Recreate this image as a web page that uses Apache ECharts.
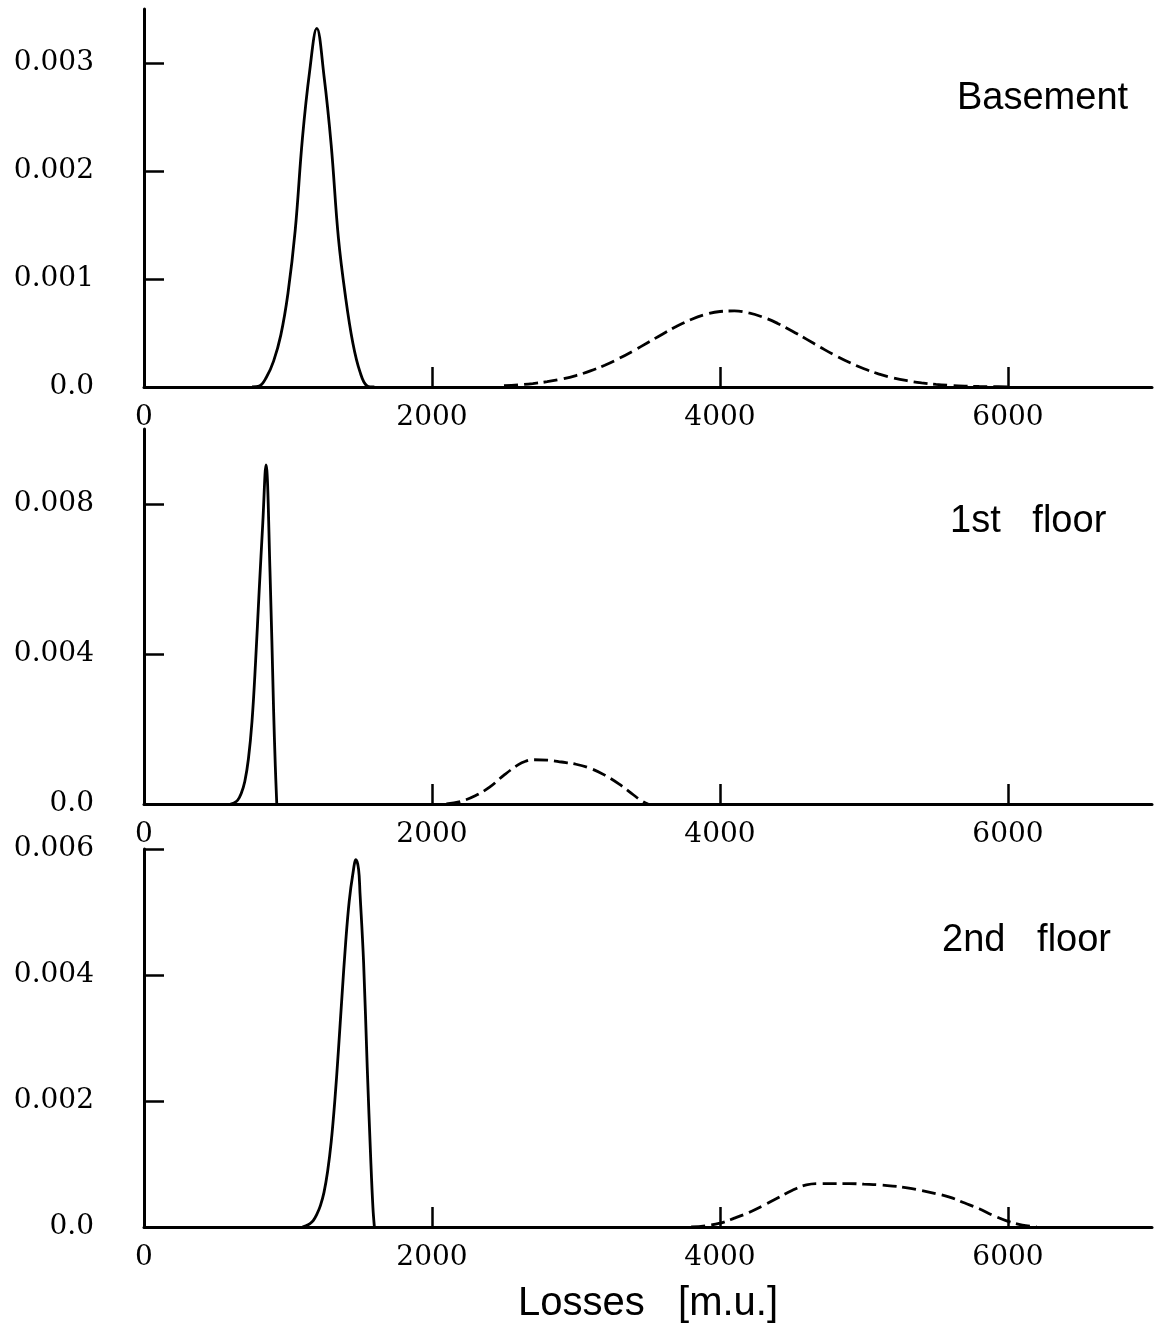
<!DOCTYPE html>
<html>
<head>
<meta charset="utf-8">
<title>Loss distributions by floor</title>
<script src="https://cdn.jsdelivr.net/npm/echarts@6/dist/echarts.min.js"></script>
<style>
  html, body { margin: 0; padding: 0; background: #ffffff; }
  #chart { width: 1156px; height: 1335px; }
</style>
</head>
<body>
<div id="chart"></div>
<script>
// Loss axis ticks and labels (monetary units)
const lossTicks = [2000, 4000, 6000];
const lossLabels = [0, 2000, 4000, 6000];

// Panel names
const panelNames = ['Basement', '1st   floor', '2nd   floor'];

// Density axis ticks per panel
const basementYTicks = [0.001, 0.002, 0.003];
const basementYLabels = [0, 0.001, 0.002, 0.003];
const firstYTicks = [0.004, 0.008];
const firstYLabels = [0, 0.004, 0.008];
const secondYTicks = [0.002, 0.004, 0.006];
const secondYLabels = [0, 0.002, 0.004, 0.006];
const yMax = [0.0035, 0.01, 0.006];

// Basement: solid curve
const basementSolidX = [750, 800, 850, 900, 950, 1000, 1050, 1100, 1150, 1200, 1250, 1300, 1350, 1400, 1450, 1500, 1550, 1600];
const basementSolidY = [0, 0.000008, 0.00009, 0.00024, 0.00048, 0.00087, 0.00145, 0.0023, 0.00292, 0.00332, 0.00288, 0.00224, 0.00138, 0.00083, 0.00041, 0.00014, 0.00001, 0];

// Basement: dashed curve
const basementDashX = [2500, 2600, 2700, 2800, 2900, 3000, 3100, 3200, 3300, 3400, 3500, 3600, 3700, 3800, 3900, 4000, 4100, 4200, 4300, 4400, 4500, 4600, 4700, 4800, 4900, 5000, 5100, 5200, 5300, 5400, 5500, 5600, 5700, 5800, 5900, 6000];
const basementDashY = [0.000012, 0.00002, 0.000032, 0.000049, 0.000073, 0.000106, 0.000149, 0.000202, 0.000265, 0.000336, 0.000412, 0.000489, 0.000562, 0.000625, 0.000672, 0.000699, 0.000704, 0.000686, 0.000646, 0.000589, 0.000519, 0.000443, 0.000366, 0.000292, 0.000226, 0.000169, 0.000122, 0.000085, 0.000058, 0.000038, 0.000024, 0.000015, 0.000009, 0.000005, 0.000003, 0.0000015];

// 1st floor: solid curve
const firstSolidX = [600, 625, 650, 675, 700, 725, 750, 775, 800, 825, 847, 875, 900, 912, 922];
const firstSolidY = [0, 0.00003, 0.0001, 0.00028, 0.0006, 0.0012, 0.0022, 0.0038, 0.0057, 0.0075, 0.00904, 0.0062, 0.0025, 0.001, 0];

// 1st floor: dashed curve
const firstDashX = [2100, 2200, 2300, 2400, 2500, 2600, 2650, 2700, 2800, 2900, 3000, 3100, 3200, 3300, 3400, 3450, 3500];
const firstDashY = [0, 0.00007, 0.00022, 0.00045, 0.00077, 0.00105, 0.00114, 0.00118, 0.00117, 0.00112, 0.00106, 0.00095, 0.00077, 0.00053, 0.00024, 0.0001, 0];

// 2nd floor: solid curve
const secondSolidX = [1100, 1125, 1150, 1175, 1200, 1225, 1250, 1275, 1300, 1325, 1350, 1375, 1400, 1425, 1450, 1472, 1490, 1500, 1525, 1550, 1575, 1590, 1600];
const secondSolidY = [0, 0.00002, 0.00005, 0.0001, 0.0002, 0.00034, 0.00055, 0.00088, 0.00135, 0.002, 0.0028, 0.00367, 0.0045, 0.00517, 0.0056, 0.00583, 0.00568, 0.0053, 0.0042, 0.00255, 0.00105, 0.0003, 0];

// 2nd floor: dashed curve
const secondDashX = [3800, 3900, 4000, 4100, 4200, 4300, 4400, 4500, 4600, 4700, 4800, 4900, 5000, 5100, 5200, 5300, 5400, 5500, 5600, 5700, 5800, 5900, 6000, 6100, 6200];
const secondDashY = [0, 0.00002, 0.00006, 0.00014, 0.00023, 0.00034, 0.00046, 0.00058, 0.00067, 0.00069, 0.00069, 0.00069, 0.00068, 0.00067, 0.00065, 0.00062, 0.00058, 0.00053, 0.00047, 0.00038, 0.00029, 0.00018, 0.00009, 0.00003, 0];

const zip = (xs, ys) => xs.map((x, i) => [x, ys[i]]);

const INK = '#000000';
const tickFont = 'DejaVu Serif';
const textFont = 'Liberation Sans';

// Plot rectangles of the three stacked panels
const grids = [
  { left: 144, top: 9, width: 1008, height: 378 },
  { left: 144, top: 429, width: 1008, height: 375 },
  { left: 144, top: 849, width: 1008, height: 378 }
];

const yTicks = [basementYTicks, firstYTicks, secondYTicks];
const yLabels = [basementYLabels, firstYLabels, secondYLabels];

function makeXAxis(i) {
  const ax = {
    type: 'value', gridIndex: i, min: 0, max: 7000,
    axisLine: { show: true, onZero: false, lineStyle: { color: INK, width: 3 } },
    axisTick: { show: true, inside: true, length: 20, customValues: lossTicks, lineStyle: { color: INK, width: 2.5 } },
    axisLabel: {
      show: true, customValues: lossLabels, margin: 17, color: INK, fontSize: 28, fontFamily: tickFont,
      formatter: v => String(v)
    },
    splitLine: { show: false }
  };
  if (i === 2) {
    ax.name = 'Losses   [m.u.]';
    ax.nameLocation = 'middle';
    ax.nameGap = 57;
    ax.nameTextStyle = { color: INK, fontSize: 40, fontFamily: textFont, verticalAlign: 'top' };
  }
  return ax;
}

function makeYAxis(i) {
  return {
    type: 'value', gridIndex: i, min: 0, max: yMax[i],
    axisLine: { show: true, onZero: false, lineStyle: { color: INK, width: 3 } },
    axisTick: { show: true, inside: true, length: 20, customValues: yTicks[i], lineStyle: { color: INK, width: 2.5 } },
    axisLabel: {
      show: true, customValues: yLabels[i], margin: 50, color: INK, fontSize: 28, fontFamily: tickFont,
      formatter: v => (v === 0 ? '0.0' : v.toFixed(3))
    },
    splitLine: { show: false }
  };
}

function curve(i, xs, ys, dashed) {
  return {
    type: 'line', xAxisIndex: i, yAxisIndex: i,
    data: zip(xs, ys),
    showSymbol: false, smooth: 0.4,
    lineStyle: { color: INK, width: 2.8, type: dashed ? [14, 6] : 'solid' },
    silent: true, animation: false
  };
}

const labelPos = [
  { x: 957, y: 99 },
  { x: 950, y: 522 },
  { x: 942, y: 941 }
];

const chart = echarts.init(document.getElementById('chart'), null, { renderer: 'canvas' });
chart.setOption({
  backgroundColor: '#ffffff',
  animation: false,
  grid: grids,
  xAxis: [0, 1, 2].map(makeXAxis),
  yAxis: [0, 1, 2].map(makeYAxis),
  series: [
    curve(0, basementSolidX, basementSolidY, false),
    curve(0, basementDashX, basementDashY, true),
    curve(1, firstSolidX, firstSolidY, false),
    curve(1, firstDashX, firstDashY, true),
    curve(2, secondSolidX, secondSolidY, false),
    curve(2, secondDashX, secondDashY, true)
  ],
  graphic: panelNames.map((name, i) => ({
    type: 'text',
    x: labelPos[i].x, y: labelPos[i].y,
    style: {
      text: name, fill: INK, fontSize: 38, fontFamily: textFont,
      textAlign: 'left', textVerticalAlign: 'middle'
    }
  }))
});
</script>
</body>
</html>
